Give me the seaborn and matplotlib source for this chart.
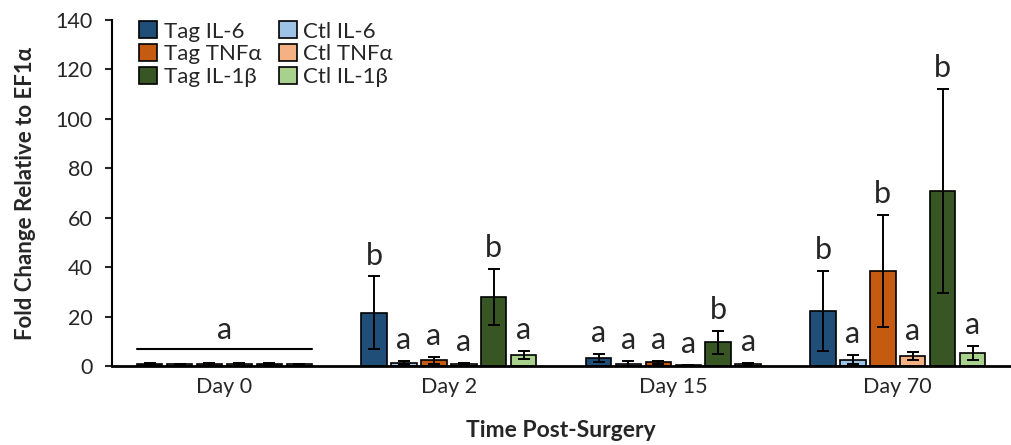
import pandas as pd
import seaborn as sns
from matplotlib import pyplot as plt

# dados
dias = ["Day 0", "Day 2", "Day 15", "Day 70"]
series = ["Tag IL-6", "Ctl IL-6", "Tag TNF\u03b1", "Ctl TNF\u03b1", "Tag IL-1\u03b2", "Ctl IL-1\u03b2"]
cores = ["#1F4E79", "#9DC3E6", "#C55A11", "#F4B183", "#375623", "#A9D18E"]

tag_il6 = [1.0, 21.7, 3.4, 22.4]
ctl_il6 = [0.9, 1.5, 1.1, 2.7]
tag_tnf = [1.0, 2.4, 1.7, 38.6]
ctl_tnf = [1.0, 1.1, 0.3, 4.0]
tag_il1b = [1.0, 28.0, 9.6, 70.9]
ctl_il1b = [0.9, 4.4, 0.9, 5.4]

err_tag_il6 = [0.2, 14.6, 1.7, 16.2]
err_ctl_il6 = [0.2, 0.5, 1.2, 1.9]
err_tag_tnf = [0.3, 1.3, 0.6, 22.6]
err_ctl_tnf = [0.3, 0.3, 0.1, 1.6]
err_tag_il1b = [0.3, 11.5, 4.6, 41.2]
err_ctl_il1b = [0.2, 1.6, 0.4, 2.7]

# letras de significancia (Day 0 tem uma so letra sobre a linha)
letras_il6 = ["", "b", "a", "b"]
letras_ctl_il6 = ["", "a", "a", "a"]
letras_tnf = ["", "a", "a", "b"]
letras_ctl_tnf = ["", "a", "a", "a"]
letras_il1b = ["", "b", "b", "b"]
letras_ctl_il1b = ["", "a", "a", "a"]
linha_dia0 = 7
letra_dia0 = "a"

valores = [tag_il6, ctl_il6, tag_tnf, ctl_tnf, tag_il1b, ctl_il1b]
erros = [err_tag_il6, err_ctl_il6, err_tag_tnf, err_ctl_tnf, err_tag_il1b, err_ctl_il1b]
letras = [letras_il6, letras_ctl_il6, letras_tnf, letras_ctl_tnf, letras_il1b, letras_ctl_il1b]

linhas = []
for s, vals in zip(series, valores):
    for d, v in zip(dias, vals):
        linhas.append({"dia": d, "serie": s, "valor": v})
dados = pd.DataFrame(linhas)

sns.set_style("white")
plt.rcParams['font.family'] = ['Lato', 'DejaVu Sans']

fig, ax = plt.subplots(figsize=(10.11, 4.45), dpi=100)
fig.subplots_adjust(left=0.111, right=0.999, bottom=0.177, top=0.955)

sns.barplot(x="dia", y="valor", hue="serie", data=dados, order=dias, hue_order=series,
            palette=cores, saturation=1, edgecolor="black", linewidth=1.2, gap=0.15,
            errorbar=None, ax=ax)

barras = list(ax.containers)  # guardar antes dos errorbars

for cont, errs, lets in zip(barras, erros, letras):
    for barra, e, l in zip(cont, errs, lets):
        xc = barra.get_x() + barra.get_width() / 2
        h = barra.get_height()
        ax.errorbar(xc, h, yerr=e, color="black", capsize=4.5, elinewidth=1.4, capthick=1.4)
        if l:
            ax.text(xc, h + e + 2.8, l, ha="center", va="bottom", fontsize=22)

# linha e letra do dia 0
x_ini = barras[0][0].get_x()
ultima = barras[-1][0]
x_fim = ultima.get_x() + ultima.get_width()
ax.plot([x_ini, x_fim], [linha_dia0, linha_dia0], color="black", linewidth=1.5)
ax.text((x_ini + x_fim) / 2, linha_dia0 + 2.0, letra_dia0, ha="center", va="bottom", fontsize=22)

ax.set_ylim(0, 140)
ax.set_xlim(-0.5, 3.5)
ax.set_yticks(range(0, 141, 20))
sns.despine(ax=ax)
ax.spines["left"].set_linewidth(1.5)
ax.spines["bottom"].set_linewidth(2)
ax.spines["left"].set_color("black")
ax.spines["bottom"].set_color("black")
ax.tick_params(axis="y", direction="out", length=5, width=1.5, labelsize=15.5, left=True, pad=9)
ax.tick_params(axis="x", length=0, labelsize=15.5, pad=8)
ax.set_xlabel("Time Post-Surgery", fontsize=16.5, fontweight="bold", labelpad=16)
ax.set_ylabel("Fold Change Relative to EF1\u03b1", fontsize=16, fontweight="bold", labelpad=14)

# legenda por linhas: Tag / Ctl lado a lado
handles, labels = ax.get_legend_handles_labels()
ordem = [0, 2, 4, 1, 3, 5]
ax.legend([handles[i] for i in ordem], [labels[i] for i in ordem], ncol=2, loc="upper left",
          bbox_to_anchor=(0.02, 1.022), frameon=False, fontsize=16,
          handlelength=0.8, handleheight=0.8, handletextpad=0.3, columnspacing=0.8,
          labelspacing=0.12, borderaxespad=0)

plt.savefig("out.png", dpi=100)
